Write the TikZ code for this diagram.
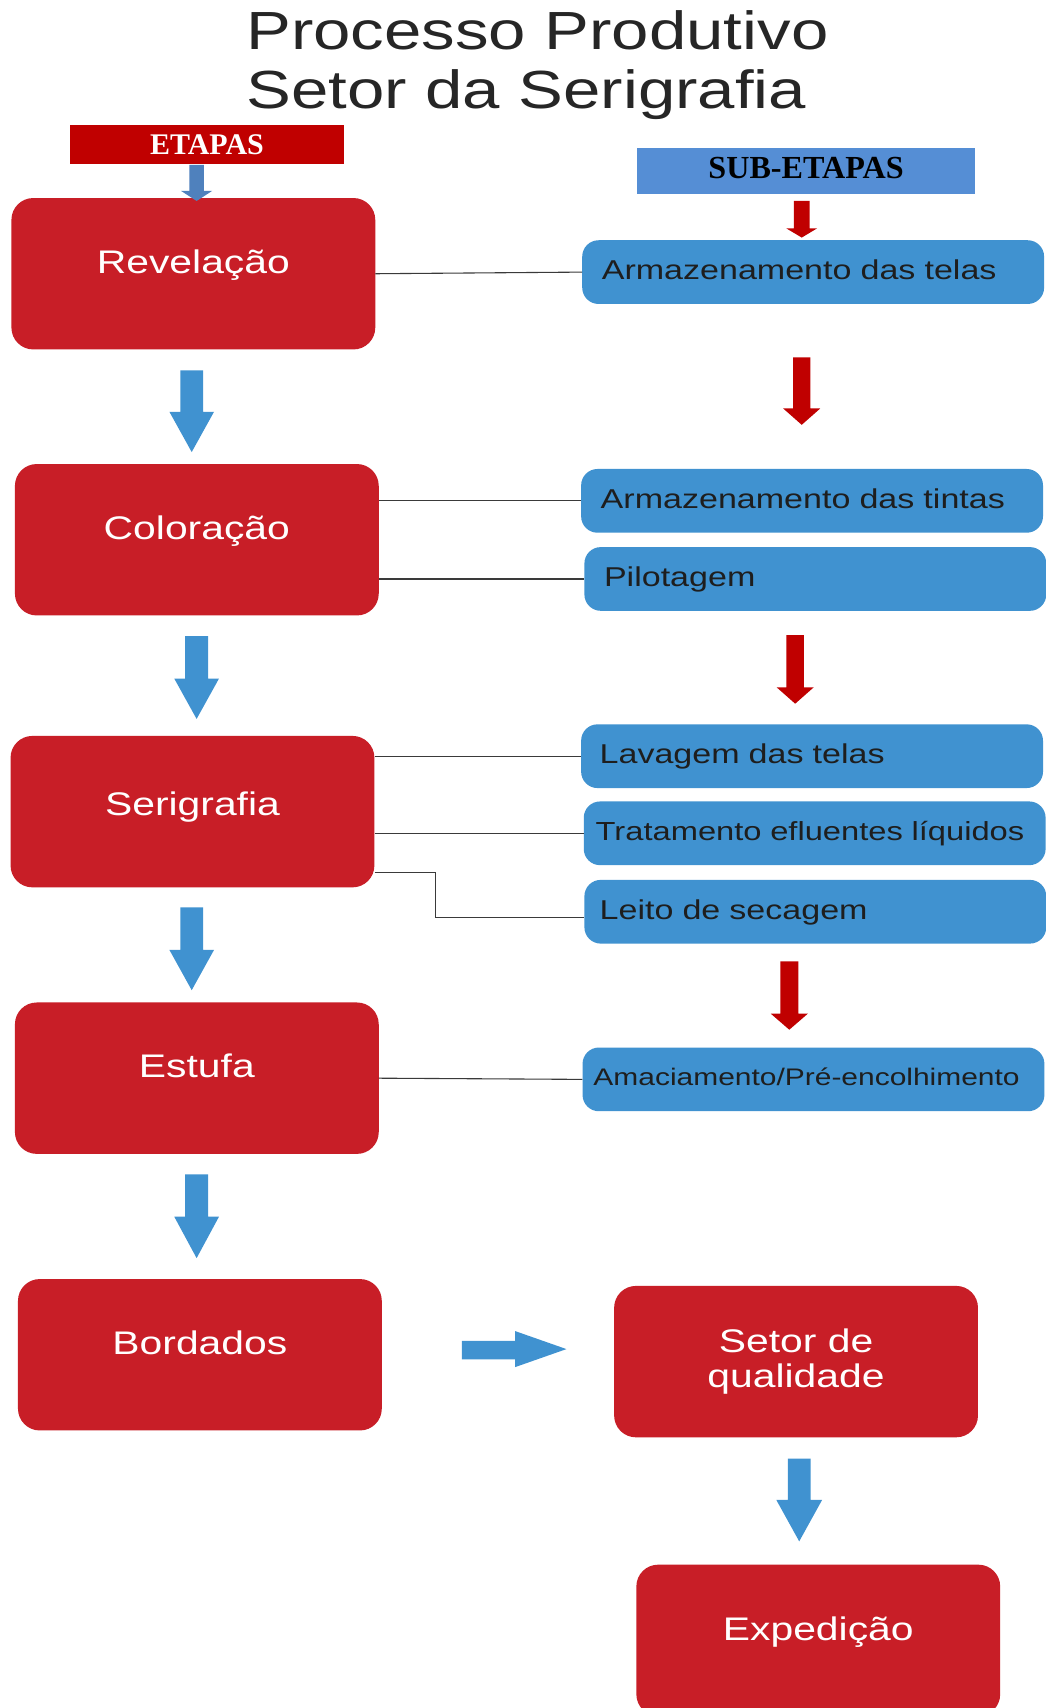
\documentclass[tikz,border=0pt]{standalone}
\usepackage{fontspec}
\newfontfamily\arialw[FakeStretch=1.25]{Liberation Sans}
\newfontfamily\timesn{Liberation Serif}
\definecolor{boxred}{RGB}{200,30,39}
\definecolor{boxblue}{RGB}{64,146,208}
\definecolor{etared}{RGB}{192,0,0}
\definecolor{subblue}{RGB}{85,142,213}
\definecolor{smallarr}{RGB}{79,129,189}
\definecolor{txtdark}{RGB}{30,30,30}
\definecolor{titlegray}{RGB}{38,38,38}
\definecolor{linegray}{RGB}{58,58,58}
\newcommand\arrdown[7]{%
  \fill[#7] (#1-#5,#2) -- (#1+#5,#2) -- (#1+#5,#3) -- (#1+#6,#3) -- (#1,#4) -- (#1-#6,#3) -- (#1-#5,#3) -- cycle;}
\tikzset{
  redbox/.style={fill=boxred, rounded corners=20pt, minimum width=334pt, minimum height=139pt,
    inner sep=0pt, text=white, font=\arialw\fontsize{30}{32}\selectfont,
    text height=21.5pt, text depth=22pt},
  bluebox/.style={fill=boxblue, rounded corners=15pt, minimum width=424pt, minimum height=58.5pt,
    inner xsep=18pt, inner ysep=0pt, text=txtdark, font=\arialw\fontsize{25}{25}\selectfont,
    text height=18pt, text depth=4pt, text width=388pt, align=left},
  conn/.style={draw=linegray, line width=1pt},
  titletxt/.style={anchor=base west, inner sep=0pt, text=titlegray, font=\arialw\fontsize{49.3}{53}\selectfont},
  hdrbox/.style={inner sep=0pt, font=\timesn\bfseries}
}
\begin{document}
\begin{tikzpicture}[x=1pt,y=-1pt]
\useasboundingbox[fill=white] (0,0) rectangle (960,1568);

% title
\node[titletxt] (t1) at (226,45.9) {Processo Produtivo};
\node[titletxt] (t2) at (226,99.4) {Setor da Serigrafia};

% headers
\node[hdrbox, fill=etared, minimum width=250.8pt, minimum height=35.5pt, text=white,
  font=\timesn\bfseries\fontsize{27.5}{28}\selectfont, text height=18.2pt, text depth=0pt]
  (etapas) at (190,132.5) {ETAPAS};
\node[hdrbox, fill=subblue, minimum width=310pt, minimum height=42pt, text=black,
  font=\timesn\bfseries\fontsize{29.5}{30}\selectfont, text height=19.5pt, text depth=6pt]
  (subetapas) at (740,156.8) {SUB-ETAPAS};

% main stages
\node[redbox] (rev) at (177.5,251.3) {Revelação};
\node[redbox] (col) at (180.7,495.5) {Coloração};
\node[redbox, text depth=15pt] (ser) at (176.7,745.1) {Serigrafia};
\node[redbox] (est) at (180.7,989.8) {Estufa};
\node[redbox] (bor) at (183.5,1243.7) {Bordados};
\node[redbox, align=center, text height={}, text depth={}] (set) at (730.8,1250) {Setor de\\qualidade};
\node[redbox] (exp) at (751.2,1505.9) {Expedição};

% sub-stages
\node[bluebox] (arm1) at (746.5,249.8) {Armazenamento das telas};
\node[bluebox] (arm2) at (745.5,459.8) {Armazenamento das tintas};
\node[bluebox] (pil) at (748.5,531.5) {Pilotagem};
\node[bluebox, inner xsep=17pt, text width=390pt] (lav) at (745.5,694.2) {Lavagem das telas};
\node[bluebox, inner xsep=11pt, text width=402pt, font=\arialw\fontsize{24}{24}\selectfont] (trat) at (747.9,765) {Tratamento efluentes líquidos};
\node[bluebox, inner xsep=14pt, text width=396pt] (lei) at (748.5,837) {Leito de secagem};
\node[bluebox, inner xsep=10pt, text width=404pt, font=\arialw\fontsize{22}{22}\selectfont, text height=16pt] (ama) at (746.8,990.9) {Amaciamento/Pré-encolhimento};

% connectors
\draw[conn] (rev.east) -- (arm1.west);
\draw[conn] (arm2.west -| col.east) -- (arm2.west);
\draw[conn] (pil.west -| col.east) -- (pil.west);
\draw[conn] (lav.west -| ser.east) -- (lav.west);
\draw[conn] (trat.west -| ser.east) -- (trat.west);
\draw[conn] ([yshift=-56pt]ser.east) -- ++(56,0) |- ([yshift=-5pt]lei.west);
\draw[conn] (est.east) -- (ama.west);

% small arrows under headers
\arrdown{180.5}{151.4}{175.3}{184.5}{6.7}{14.2}{smallarr}
\arrdown{736}{184.5}{209.6}{218.1}{7.3}{14.2}{etared}

% red arrows (sub-stages)
\arrdown{736}{328}{375}{390}{8}{17}{etared}
\arrdown{730}{583}{631}{646}{8}{17}{etared}
\arrdown{724.6}{882.6}{930.6}{945.3}{8.3}{17}{etared}

% blue arrows (main stages)
\arrdown{176}{340}{378}{415}{10.5}{20.5}{boxblue}
\arrdown{180.5}{584}{623}{660}{10.5}{20.5}{boxblue}
\arrdown{176}{833}{872}{909}{10.5}{20.5}{boxblue}
\arrdown{180.5}{1078}{1117}{1155}{10.5}{20.5}{boxblue}
\arrdown{733.7}{1339}{1377}{1415}{10.5}{21}{boxblue}
\fill[boxblue] (424,1231) -- (473,1231) -- (473,1222) -- (520,1238.5) -- (473,1255) -- (473,1248) -- (424,1248) -- cycle;
\end{tikzpicture}
\end{document}
